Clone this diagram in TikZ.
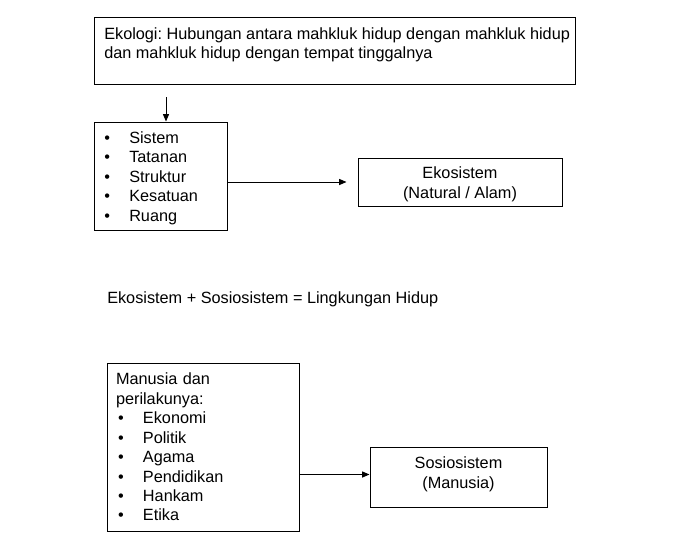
\documentclass[tikz,border=0pt]{standalone}
\usepackage{fontspec}
\setmainfont{Liberation Sans}
\frenchspacing
\usetikzlibrary{arrows.meta,positioning,calc}
\tikzset{
  teks/.style={font=\fontsize{12.2}{14.6}\selectfont,inner sep=0pt,align=left},
  kotak/.style={draw=black,line width=0.75pt,font=\fontsize{12.2}{14.6}\selectfont},
  arr/.style={-{Triangle[length=5.5pt,width=4.5pt]},draw=black,line width=0.75pt}
}
\newcommand{\butir}[1]{\makebox[18.75pt][l]{\textbullet}#1}

\begin{document}
\begin{tikzpicture}[x=0.75pt,y=-0.75pt]
\path[use as bounding box,fill=white] (0,0) rectangle (697,539);
\node[kotak,minimum width=360.75pt,minimum height=50.25pt,anchor=north west] (ekologi) at (94,17) {};
\node[teks,anchor=north west] (ekologiteks) at (104,27) {Ekologi: Hubungan antara mahkluk hidup dengan mahkluk hidup\\dan mahkluk hidup dengan tempat tinggalnya};
\coordinate (turun) at (166,97);
\node[kotak,minimum width=99.75pt,minimum height=81pt] (sifat) at (160.5,176) {};
\node[teks,anchor=west] (sifatteks) at (104,178) {\butir{Sistem}\\\butir{Tatanan}\\\butir{Struktur}\\\butir{Kesatuan}\\\butir{Ruang}};
\node[kotak,minimum width=153pt,minimum height=36pt] (eko) at (460,182) {};
\node[teks,align=center] (ekoteks) at (460,184.5) {Ekosistem\\(Natural / Alam)};
\draw[arr] (turun) -- (turun |- sifat.north);
\draw[arr,shorten >=8.25pt] (sifat.east |- eko.west) -- (eko.west);
\node[teks,anchor=base west] (rumus) at (107,303) {Ekosistem + Sosiosistem = Lingkungan Hidup};
\node[kotak,align=left,text width=130.5pt,inner xsep=6.75pt,minimum height=126pt] (manusia) at (203,447) {Manusia dan\\perilakunya:\\\hspace{1.5pt}\butir{Ekonomi}\\\hspace{1.5pt}\butir{Politik}\\\hspace{1.5pt}\butir{Agama}\\\hspace{1.5pt}\butir{Pendidikan}\\\hspace{1.5pt}\butir{Hankam}\\\hspace{1.5pt}\butir{Etika}};
\node[kotak,minimum width=132.75pt,minimum height=45pt] (sosio) at (458.5,477) {};
\node[teks,align=center] (sosioteks) at (458.5,474.5) {Sosiosistem\\(Manusia)};
\draw[arr] (manusia.east |- sosioteks) -- (sosio.west |- sosioteks);
\end{tikzpicture}
\end{document}
